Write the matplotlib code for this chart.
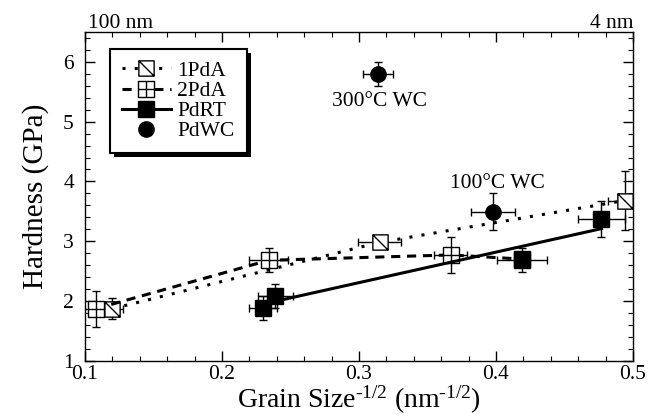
import numpy as np
import matplotlib
matplotlib.use("Agg")
import matplotlib.pyplot as plt
from matplotlib.path import Path
from matplotlib.patches import Rectangle
from matplotlib.transforms import IdentityTransform
from matplotlib.ticker import MultipleLocator

plt.rcParams['font.family'] = ['Liberation Serif', 'DejaVu Serif']
plt.rcParams['mathtext.fontset'] = 'custom'
plt.rcParams['mathtext.rm'] = 'Liberation Serif'
plt.rcParams['mathtext.it'] = 'Liberation Serif:italic'

# 1PdA (dotted line, square with diagonal)
pda1_x = [0.120, 0.315, 0.494]
pda1_y = [1.87, 2.98, 3.68]
pda1_xerr = [0.008, 0.016, 0.012]
pda1_yerr = [0.18, 0.0, 0.5]

# 2PdA (dashed line, square with cross)
pda2_x = [0.108, 0.234, 0.367, 0.419]
pda2_y = [1.87, 2.68, 2.77, 2.70]
pda2_xerr = [0.010, 0.014, 0.012, 0.0]
pda2_yerr = [0.30, 0.20, 0.30, 0.0]

# PdRT (filled squares) and its straight line
rt_x = [0.230, 0.239, 0.419, 0.477]
rt_y = [1.88, 2.08, 2.68, 3.37]
rt_xerr = [0.010, 0.013, 0.018, 0.017]
rt_yerr = [0.20, 0.20, 0.20, 0.30]
fit_x = [0.244, 0.477]
fit_y = [2.02, 3.21]

# PdWC (circles)
wc_x = [0.314, 0.398]
wc_y = [5.80, 3.49]
wc_xerr = [0.011, 0.016]
wc_yerr = [0.20, 0.31]
wc_notes = ['300°C WC', '100°C WC']
wc_note_pos = [(0.315, 5.33), (0.401, 3.97)]

# custom markers
sq = [(-1, -1), (1, -1), (1, 1), (-1, 1), (-1, -1)]
sq_codes = [Path.MOVETO] + [Path.LINETO] * 3 + [Path.CLOSEPOLY]
diag_marker = Path(sq + [(-1, 1), (1, -1)], sq_codes + [Path.MOVETO, Path.LINETO])
cross_marker = Path(sq + [(0, -1), (0, 1), (-1, 0), (1, 0)],
                    sq_codes + [Path.MOVETO, Path.LINETO, Path.MOVETO, Path.LINETO])

fig = plt.figure(figsize=(6.57, 4.18), dpi=100)
ax = fig.add_axes([85 / 657, 1 - 360.7 / 418, 548 / 657, 328.7 / 418])

ebkw = dict(fmt='none', ecolor='black', elinewidth=1.0, capsize=3, capthick=1.0)

# lines
l1, = ax.plot(pda1_x, pda1_y, color='black', lw=2.2, ls=(0, (1, 3)),
              marker=diag_marker, ms=11, mfc='white', mec='black', mew=1.0,
              label='1PdA', zorder=3)
l2, = ax.plot(pda2_x, pda2_y, color='black', lw=2.2, ls=(0, (3, 2.2)),
              marker=cross_marker, ms=11, mfc='white', mec='black', mew=1.0,
              label='2PdA', zorder=3)
ax.plot(fit_x, fit_y, color='black', lw=2.2, zorder=3)
ax.plot(rt_x, rt_y, ls='none', marker='s', ms=11, color='black', zorder=4)
ax.plot(wc_x, wc_y, ls='none', marker='o', ms=11, color='black', zorder=4)

ax.errorbar(pda1_x, pda1_y, xerr=pda1_xerr, yerr=pda1_yerr, zorder=2, **ebkw)
ax.errorbar(pda2_x, pda2_y, xerr=pda2_xerr, yerr=pda2_yerr, zorder=2, **ebkw)
ax.errorbar(rt_x, rt_y, xerr=rt_xerr, yerr=rt_yerr, zorder=2, **ebkw)
ax.errorbar(wc_x, wc_y, xerr=wc_xerr, yerr=wc_yerr, zorder=2, **ebkw)

for t, (tx, ty) in zip(wc_notes, wc_note_pos):
    ax.text(tx, ty, t, ha='center', va='center', fontsize=15.5)

# legend handles
h_rt, = ax.plot([], [], color='black', lw=2.2, marker='s', ms=11)
h_wc, = ax.plot([], [], ls='none', color='black', marker='o', ms=11)
leg = ax.legend([l1, l2, h_rt, h_wc], ['1PdA', '2PdA', 'PdRT', 'PdWC'],
                loc='upper left', bbox_to_anchor=(0.045, 0.948), borderaxespad=0,
                fontsize=15.5, frameon=True, fancybox=False, edgecolor='black',
                framealpha=1, handlelength=2.3, handletextpad=0.3,
                labelspacing=0.0, borderpad=0.55)
leg.get_frame().set_linewidth(1.5)
leg.set_zorder(6)

ax.set_xlim(0.1, 0.5)
ax.set_ylim(1, 6.5)
ax.xaxis.set_minor_locator(MultipleLocator(0.02))
ax.yaxis.set_minor_locator(MultipleLocator(0.2))
ax.set_xticks([0.1, 0.2, 0.3, 0.4, 0.5])
ax.set_xticklabels(['0.1', '0.2', '0.3', '0.4', '0.5'])
ax.set_yticks([1, 2, 3, 4, 5, 6])
ax.tick_params(which='both', direction='in', top=True, right=True, labelsize=15.5)
ax.tick_params(which='major', length=7, width=1)
ax.tick_params(which='minor', length=3.5, width=0.8)
ax.tick_params(axis='y', pad=8)
ax.tick_params(axis='x', pad=3)
for s in ax.spines.values():
    s.set_linewidth(1.0)

ax.text(0.005, 1.012, '100 nm', transform=ax.transAxes, ha='left', va='baseline', fontsize=15.5)
ax.text(1.0, 1.012, '4 nm', transform=ax.transAxes, ha='right', va='baseline', fontsize=15.5)

ax.set_xlabel('Grain Size$^{\\mathrm{\u20101/2}}$ (nm$^{\\mathrm{\u20101/2}}$)', fontsize=20, labelpad=0)
ax.set_ylabel('Hardness (GPa)', fontsize=21, labelpad=10)

# heavy drop shadow behind the legend box
fig.canvas.draw()
bb = leg.get_frame().get_window_extent()
ax.add_artist(Rectangle((bb.x0 + 4, bb.y0 - 4), bb.width, bb.height,
                        transform=IdentityTransform(), facecolor='black',
                        edgecolor='none', clip_on=False, zorder=5.5))

fig.savefig('out.png', dpi=100)
